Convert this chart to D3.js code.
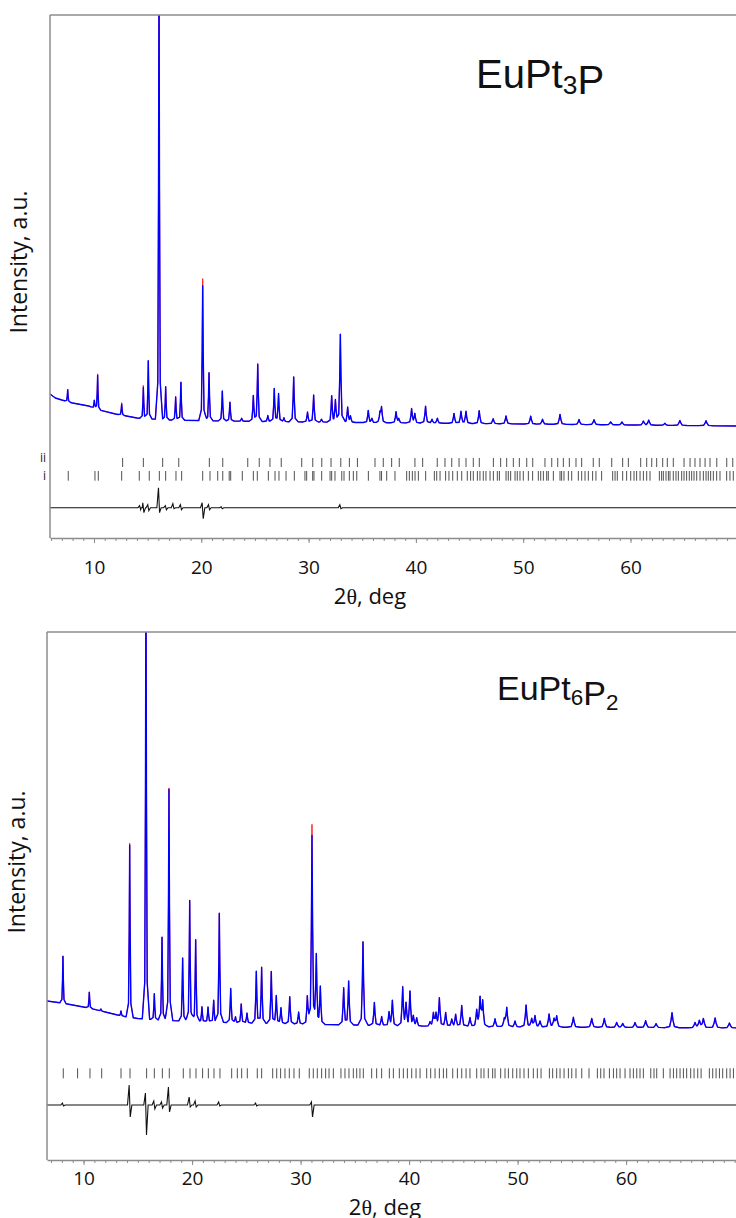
<!DOCTYPE html>
<html>
<head>
<meta charset="utf-8">
<script src="https://cdn.jsdelivr.net/npm/d3@7"></script>
<style>
  body { margin: 0; background: #fff; }
  svg { display: block; }
</style>
</head>
<body>
<svg id="chart" width="736" height="1218"></svg>
<script>
// ================= EuPt3P =================
// background (2θ, counts)
const bgPosA = [5.9, 6.4, 7.0, 8.0, 9.5, 10.5, 12, 14, 17, 22, 30, 40, 50, 60, 70];
const bgIntA = [1440, 1400, 1380, 1350, 1320, 1280, 1240, 1200, 1180, 1170, 1160, 1150, 1140, 1130, 1120];
// calculated peak maxima above background (2θ, counts)
const peakPosA = [7.55, 10.03, 10.34, 12.58, 14.6, 15.06, 16.06, 16.68, 17.61, 18.1,
  20.13, 20.72, 21.96, 22.67, 23.76, 24.85, 25.26, 26.2, 26.8, 27.2,
  27.7, 28.61, 29.9, 30.47, 31.2, 32.15, 32.5, 32.96, 33.64, 33.9,
  35.56, 35.9, 36.65, 36.8, 38.15, 38.4, 39.6, 39.9, 40.9, 41.5,
  42.0, 43.55, 44.2, 44.67, 45.9, 47.2, 48.4, 50.7, 51.8, 53.43,
  55.2, 56.6, 58.15, 59.2, 61.2, 61.7, 63.2, 64.6, 67.04];
const peakIntA = [120, 80, 340, 110, 310, 580, 4600, 330, 230, 380,
  1350, 480, 300, 190, 30, 260, 570, 60, 330, 280,
  40, 450, 100, 270, 30, 260, 220, 880, 150, 60,
  120, 40, 100, 150, 110, 40, 140, 90, 170, 40,
  50, 100, 120, 120, 130, 50, 80, 80, 50, 100,
  50, 50, 30, 30, 40, 50, 20, 50, 50];
// observed excess over the calculated profile at selected peaks
const obsTipPosA = [20.13, 10.34, 12.58, 14.6, 17.61, 25.26];
const obsTipIntA = [70, 15, 15, 20, 10, 10];
// reflection positions, phase i and phase ii
const reflPosAi = [7.6, 10.09, 10.4, 12.58, 14.22, 15.15, 16.09, 16.68, 17.64, 18.17,
  20.13, 20.81, 21.53, 22.0, 22.6, 22.74, 23.82, 24.85, 25.22, 26.25,
  26.87, 27.24, 27.9, 28.67, 29.66, 29.82, 30.38, 30.5, 31.22, 32.0,
  32.15, 32.46, 33.09, 33.3, 33.8, 34.17, 34.49, 35.57, 36.65, 36.8,
  37.28, 38.05, 39.14, 39.39, 39.67, 39.92, 40.23, 40.91, 41.72, 41.94,
  42.25, 42.77, 43.08, 43.43, 43.86, 44.27, 44.79, 45.1, 45.35, 45.73,
  45.97, 46.28, 46.53, 46.91, 47.22, 47.59, 47.78, 48.4, 48.61, 48.83,
  49.24, 49.45, 49.7, 50.01, 50.48, 50.88, 51.41, 51.63, 51.88, 52.19,
  52.34, 52.81, 53.43, 53.58, 53.8, 54.21, 54.52, 55.14, 55.45, 55.76,
  56.07, 56.47, 56.78, 57.31, 58.34, 58.56, 58.77, 59.27, 59.64, 60.02,
  60.33, 60.57, 60.89, 61.2, 61.51, 61.82, 62.69, 62.9, 63.06, 63.31,
  63.53, 63.68, 63.99, 64.24, 64.46, 64.77, 64.99, 65.23, 65.48, 65.7,
  65.92, 66.17, 66.48, 66.79, 67.04, 67.25, 67.47, 67.72, 68.03, 68.34,
  68.96, 69.27, 69.58];
const reflPosAii = [12.67, 14.6, 16.4, 17.9, 20.75, 22.0, 24.33, 25.4, 26.4, 27.45,
  29.36, 30.39, 31.23, 32.09, 33.0, 33.8, 34.55, 36.19, 36.96, 37.74,
  38.45, 39.91, 40.63, 41.99, 42.71, 43.34, 44.02, 44.67, 45.35, 45.91,
  47.22, 47.9, 48.46, 49.08, 49.64, 50.33, 50.89, 52.03, 52.66, 53.22,
  53.74, 54.3, 54.92, 55.45, 56.53, 57.09, 58.25, 59.27, 59.8, 60.95,
  61.51, 61.98, 62.44, 63.0, 63.43, 63.99, 64.99, 65.55, 66.01, 66.48,
  66.95, 67.41, 68.04, 68.97, 69.53];
// difference curve excursions (2θ, up, down)
const diffPosA = [14.3, 14.6, 15.06, 16.06, 16.7, 17.4, 18.1, 20.13, 20.72, 21.9, 32.96];
const diffUpA = [20, 50, 30, 200, 20, 40, 30, 50, 30, 10, 30];
const diffDownA = [20, 50, 30, 50, 20, 10, 20, 110, 20, 10, 10];

// ================= EuPt6P2 =================
const bgPosB = [6.63, 8, 9, 10.5, 12, 13.5, 15, 17, 20, 25, 30, 40, 50, 60, 70.2];
const bgIntB = [1590, 1570, 1550, 1520, 1480, 1440, 1415, 1400, 1385, 1370, 1360, 1340, 1330, 1325, 1320];
const peakPosB = [8.1, 10.53, 11.6, 13.45, 14.25, 15.75, 16.52, 17.23, 17.87, 19.13,
  19.78, 20.33, 20.91, 21.47, 21.99, 22.51, 23.56, 24.0, 24.53, 25.06,
  25.92, 26.41, 27.3, 27.76, 28.19, 29.0, 29.82, 30.62, 31.05, 31.45,
  31.82, 33.97, 34.43, 35.75, 36.8, 37.47, 38.15, 38.46, 39.41, 39.72,
  40.08, 40.39, 40.7, 41.93, 42.24, 42.48, 42.79, 43.37, 43.93, 44.29,
  44.85, 45.61, 46.23, 46.54, 46.78, 47.92, 48.78, 49.0, 49.76, 50.78,
  51.3, 51.6, 52.07, 52.9, 53.36, 53.6, 55.14, 56.83, 57.99, 59.13,
  59.69, 60.82, 61.8, 62.76, 64.23, 66.35, 66.75, 67.12, 68.2, 69.52];
const peakIntB = [470, 160, 20, 50, 1720, 4600, 260, 830, 2310, 630,
  1210, 820, 150, 150, 220, 1090, 340, 60, 190, 100,
  520, 560, 520, 280, 160, 270, 120, 280, 1880, 680,
  370, 370, 440, 830, 230, 90, 130, 250, 380, 210,
  340, 90, 80, 40, 130, 120, 280, 140, 70, 120,
  210, 90, 160, 280, 250, 80, 80, 190, 60, 220,
  80, 110, 60, 130, 80, 110, 100, 90, 90, 50,
  40, 50, 70, 40, 150, 50, 70, 90, 100, 50];
const obsTipPosB = [31.05, 14.25, 17.87, 39.41, 35.75];
const obsTipIntB = [110, 20, 15, 10, 10];
const reflPosB = [8.13, 9.45, 10.59, 11.67, 13.45, 14.28, 15.81, 16.52, 17.26, 17.9,
  19.19, 19.81, 20.36, 20.97, 21.5, 22.02, 22.57, 23.65, 24.17, 24.57,
  25.09, 26.01, 26.41, 27.43, 27.8, 28.16, 28.56, 28.96, 29.39, 29.88,
  30.8, 31.17, 31.54, 31.94, 32.31, 32.62, 33.02, 33.72, 34.09, 34.46,
  34.86, 35.17, 35.47, 35.78, 36.55, 37.01, 37.47, 38.18, 38.55, 39.1,
  39.47, 39.84, 40.24, 40.64, 41.01, 41.62, 41.99, 42.39, 42.79, 43.16,
  43.46, 44.02, 44.45, 44.85, 45.25, 45.61, 46.23, 46.63, 46.9, 47.3,
  47.7, 47.92, 48.44, 48.84, 49.15, 49.55, 49.92, 50.22, 50.59, 50.99,
  51.45, 51.82, 52.16, 52.93, 53.23, 53.6, 53.91, 54.28, 54.68, 54.99,
  55.38, 55.91, 56.58, 57.35, 57.66, 57.96, 58.46, 58.83, 59.13, 59.44,
  59.9, 60.36, 60.67, 60.98, 61.28, 61.59, 62.27, 62.57, 62.82, 63.43,
  64.05, 64.36, 64.66, 64.97, 65.28, 65.58, 65.95, 66.26, 66.6, 66.91,
  67.67, 67.98, 68.29, 68.6, 68.9, 69.27, 69.58, 69.89];
const diffPosB = [8.1, 14.25, 15.75, 16.52, 17.23, 17.87, 19.78, 20.33, 22.5, 25.9, 31.05];
const diffUpB = [20, 200, 120, 40, 30, 180, 80, 40, 30, 20, 30];
const diffDownB = [10, 120, 300, 40, 30, 70, 20, 20, 10, 10, 120];

const xTickValues = [10, 20, 30, 40, 50, 60];

// ================= drawing =================
const svg = d3.select("#chart");
const FRAME = "#8c8c8c";
const FONT = "Open Sans, sans-serif";

// normalised peak profile (offset in degrees -> fraction of peak height)
const peakShape = d3.scaleLinear()
  .domain([-0.3, -0.1, -0.04, 0, 0.04, 0.1, 0.3])
  .range([0, 0.08, 0.5, 1, 0.5, 0.08, 0])
  .clamp(true);

function buildProfile(bgPos, bgInt, pos, ints, xmin, xmax) {
  const bg = d3.scaleLinear().domain(bgPos).range(bgInt);
  const widen = p => 1 + (p - 10) / 45;
  const xs = new Set(bgPos);
  pos.forEach(p => peakShape.domain().forEach(k => xs.add(p + k * widen(p))));
  const sorted = Array.from(xs).filter(v => v >= xmin && v <= xmax).sort((a, b) => a - b);
  return sorted.map(x => {
    let y = bg(x);
    pos.forEach((p, i) => { y += ints[i] * peakShape((x - p) / widen(p)); });
    return [x, y];
  });
}

function buildDiff(pos, up, down, xmin, xmax) {
  const pts = [[xmin, 0], [xmax, 0]];
  pos.forEach((p, i) => {
    pts.push([p - 0.2, 0], [p - 0.05, up[i]], [p + 0.05, -down[i]], [p + 0.2, 0]);
  });
  return pts.sort((a, b) => a[0] - b[0]);
}

function drawPanel(cfg) {
  const g = svg.append("g");
  const x = d3.scaleLinear().domain([cfg.xmin, cfg.xmax]).range([cfg.left, cfg.right]);
  const y = d3.scaleLinear().domain([0, cfg.ymax]).range([cfg.bottom, cfg.top]);

  const clipId = "clip-" + cfg.id;
  svg.append("defs").append("clipPath").attr("id", clipId)
    .append("rect").attr("x", cfg.left).attr("y", cfg.top)
    .attr("width", 736 - cfg.left).attr("height", cfg.bottom - cfg.top);

  const plot = g.append("g").attr("clip-path", `url(#${clipId})`);
  const line = d3.line().x(d => x(d[0])).y(d => y(d[1]));

  // observed (red) under calculated (blue)
  const tip = new Map(cfg.obsTipPos.map((p, i) => [p, cfg.obsTipInt[i]]));
  const obsInts = cfg.peakPos.map((p, i) => cfg.peakInt[i] + (tip.get(p) || 0));
  plot.append("path")
    .datum(buildProfile(cfg.bgPos, cfg.bgInt, cfg.peakPos, obsInts, cfg.xmin, cfg.xmax))
    .attr("d", line).attr("fill", "none").attr("stroke", "#ff2020").attr("stroke-width", 1.0);
  plot.append("path")
    .datum(buildProfile(cfg.bgPos, cfg.bgInt, cfg.peakPos, cfg.peakInt, cfg.xmin, cfg.xmax))
    .attr("d", line).attr("fill", "none").attr("stroke", "#0000ff").attr("stroke-width", 1.4)
    .attr("stroke-linejoin", "round");

  // reflection markers
  cfg.reflRows.forEach(row => {
    plot.append("g").selectAll("line").data(row.pos).join("line")
      .attr("x1", d => x(d)).attr("x2", d => x(d))
      .attr("y1", y(row.lo)).attr("y2", y(row.hi))
      .attr("stroke", "#505050").attr("stroke-width", 1);
    if (row.label) {
      g.append("text").attr("x", cfg.left - 4).attr("y", row.labelY)
        .attr("text-anchor", "end").attr("font-family", FONT)
        .attr("font-size", 12).attr("fill", "#222").text(row.label);
    }
  });

  // difference curve
  const diffLine = d3.line().x(d => x(d[0])).y(d => y(cfg.diffBase + d[1]));
  plot.append("path")
    .datum(buildDiff(cfg.diffPos, cfg.diffUp, cfg.diffDown, cfg.xmin, cfg.xmax))
    .attr("d", diffLine).attr("fill", "none").attr("stroke", "#111").attr("stroke-width", 1.1);

  // frame: top and left
  g.append("line").attr("x1", cfg.left).attr("x2", 736).attr("y1", cfg.top).attr("y2", cfg.top)
    .attr("stroke", FRAME).attr("stroke-width", 1.5);
  g.append("line").attr("x1", cfg.left).attr("x2", cfg.left).attr("y1", cfg.top).attr("y2", cfg.bottom)
    .attr("stroke", FRAME).attr("stroke-width", 1.5);

  // x axis: minor ticks every degree, labelled majors every 10
  const minor = d3.range(Math.ceil(cfg.xmin), Math.floor(cfg.xmax) + 1);
  const axMinor = g.append("g").attr("transform", `translate(0,${cfg.bottom})`)
    .call(d3.axisBottom(x).tickValues(minor).tickSize(3).tickFormat(""));
  axMinor.select(".domain").remove();
  axMinor.selectAll(".tick line").attr("stroke", FRAME);
  const ax = g.append("g").attr("transform", `translate(0,${cfg.bottom})`)
    .call(d3.axisBottom(x).tickValues(xTickValues).tickSize(5).tickSizeOuter(0));
  ax.select(".domain").attr("stroke", FRAME).attr("stroke-width", 1.5);
  ax.selectAll(".tick line").attr("stroke", FRAME);
  ax.selectAll(".tick text").attr("y", cfg.tickLabelDy).attr("dy", "0.36em")
    .attr("font-family", FONT).attr("font-size", 19).attr("fill", "#111");

  // axis titles
  const xt = g.append("text").attr("x", cfg.xTitleX).attr("y", cfg.bottom + cfg.xTitleDy)
    .attr("text-anchor", "middle").attr("font-family", FONT)
    .attr("font-size", 22).attr("fill", "#111");
  xt.append("tspan").text("2");
  xt.append("tspan").attr("font-family", "Liberation Serif, serif").text("θ");
  xt.append("tspan").text(", deg");

  g.append("text")
    .attr("transform", `translate(${cfg.yTitleX},${cfg.yTitleY}) rotate(-90)`)
    .attr("text-anchor", "middle").attr("font-family", FONT)
    .attr("font-size", 23).attr("fill", "#111").text("Intensity, a.u.");

  // compound label
  const t = g.append("text").attr("x", cfg.labelX).attr("y", cfg.labelY)
    .attr("font-family", "Liberation Sans, Arial, sans-serif").attr("font-size", cfg.labelSize).attr("fill", "#111");
  cfg.formula.forEach(part => {
    if (part.sub) {
      t.append("tspan").attr("font-size", cfg.labelSize * 0.66).attr("dy", cfg.labelSize * 0.14).text(part.text);
      t.append("tspan").attr("dy", -cfg.labelSize * 0.14).text("");
    } else {
      t.append("tspan").text(part.text);
    }
  });
}

drawPanel({
  id: "a", left: 50, right: 737.8, top: 15, bottom: 538, xmin: 5.9, xmax: 70, ymax: 5230,
  bgPos: bgPosA, bgInt: bgIntA, peakPos: peakPosA, peakInt: peakIntA,
  obsTipPos: obsTipPosA, obsTipInt: obsTipIntA,
  reflRows: [{ pos: reflPosAii, lo: 710, hi: 800, label: "ii", labelY: 462 },
             { pos: reflPosAi, lo: 573, hi: 670, label: "i", labelY: 480 }],
  diffPos: diffPosA, diffUp: diffUpA, diffDown: diffDownA, diffBase: 303,
  tickLabelDy: 29, xTitleX: 370, xTitleDy: 66, yTitleX: 27, yTitleY: 262,
  labelX: 476, labelY: 88, labelSize: 40,
  formula: [{ text: "EuPt" }, { text: "3", sub: true }, { text: "P" }]
});

drawPanel({
  id: "b", left: 47, right: 736.8, top: 632, bottom: 1160, xmin: 6.63, xmax: 70.2, ymax: 5280,
  bgPos: bgPosB, bgInt: bgIntB, peakPos: peakPosB, peakInt: peakIntB,
  obsTipPos: obsTipPosB, obsTipInt: obsTipIntB,
  reflRows: [{ pos: reflPosB, lo: 817, hi: 917 }],
  diffPos: diffPosB, diffUp: diffUpB, diffDown: diffDownB, diffBase: 550,
  tickLabelDy: 18, xTitleX: 385, xTitleDy: 55, yTitleX: 25, yTitleY: 862,
  labelX: 497, labelY: 700, labelSize: 34,
  formula: [{ text: "EuPt" }, { text: "6", sub: true }, { text: "P" }, { text: "2", sub: true }]
});
</script>
</body>
</html>
